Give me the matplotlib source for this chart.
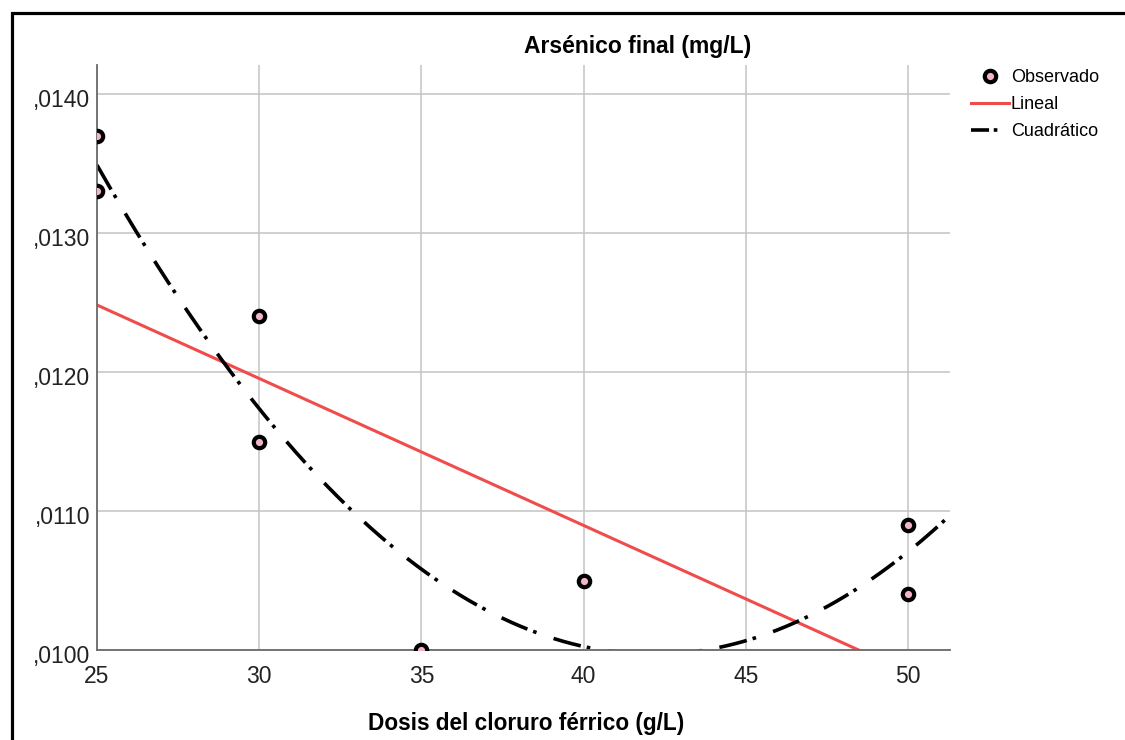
import numpy as np
import matplotlib
matplotlib.use("Agg")
import matplotlib.pyplot as plt
import matplotlib.patches as mpatches
from matplotlib.transforms import ScaledTranslation
from matplotlib.lines import Line2D

# ---- data ----
dosis = [25, 25, 30, 30, 35, 40, 50, 50]
arsenico = [0.0137, 0.0133, 0.0124, 0.0115, 0.0100, 0.0105, 0.0109, 0.0104]
# fitted model coefficients (b0, b1, b2)
lineal_coef = [0.015126, -1.0575e-4]
cuad_coef = [0.031227, -1.00865e-3, 1.1965e-5]
x_ticks = [25, 30, 35, 40, 45, 50]
y_ticks = [0.0100, 0.0110, 0.0120, 0.0130, 0.0140]
x_range = [25, 51.29]
y_range = [0.0100, 0.014209]
legend_labels = ["Observado", "Lineal", "Cuadrático"]
title = "Arsénico final (mg/L)"
xlabel = "Dosis del cloruro férrico (g/L)"

plt.rcParams['font.family'] = ['Liberation Sans', 'DejaVu Sans']

fig = plt.figure(figsize=(11.25, 7.4), dpi=100)
W, H = 1125, 740
ax = fig.add_axes([97 / W, 1 - 650 / H, (950 - 97) / W, (650 - 65) / H])

xs = np.linspace(x_range[0], x_range[1], 400)
y_lin = lineal_coef[0] + lineal_coef[1] * xs
y_quad = cuad_coef[0] + cuad_coef[1] * xs + cuad_coef[2] * xs ** 2

red = '#f04c4c'
ax.plot(xs, y_lin, color=red, lw=2.2, zorder=3, solid_capstyle='butt')
quad_ls = (0, (7.8, 1.7, 1.0, 5.0))
ax.plot(xs, y_quad, color='black', lw=2.6, ls=quad_ls, zorder=3)
ax.plot(dosis, arsenico, ls='none', marker='o', ms=8.2, mew=3.0,
        mec='black', mfc='#f4b4c8', zorder=4)

ax.set_xlim(*x_range)
ax.set_ylim(*y_range)
ax.set_xticks(x_ticks)
ax.set_yticks(y_ticks)
ax.set_xticklabels([str(v) for v in x_ticks])
ax.set_yticklabels([("%.4f" % v).lstrip('0').replace('.', ',') for v in y_ticks])
ax.tick_params(axis='both', length=0, labelsize=16.5, colors='#222222')
ax.tick_params(axis='x', pad=11)
ax.tick_params(axis='y', pad=5)
for lab in ax.get_yticklabels():
    lab.set_verticalalignment('center_baseline')
    lab.set_transform(lab.get_transform() + ScaledTranslation(0, -4 / 100, fig.dpi_scale_trans))

ax.grid(True, color='#c4c4c4', lw=1.1)
ax.set_axisbelow(True)
for s in ['top', 'right']:
    ax.spines[s].set_visible(False)
for s in ['left', 'bottom']:
    ax.spines[s].set_color('#6a6a6a')
    ax.spines[s].set_linewidth(1.3)
    ax.spines[s].set_zorder(3.5)

fig.text(638 / W, 1 - 53 / H, title, ha='center', va='baseline',
         fontsize=16.5, fontweight='bold')
fig.text(526 / W, 1 - 730 / H, xlabel, ha='center', va='baseline',
         fontsize=16.3, fontweight='bold')

handles = [
    Line2D([], [], ls='none', marker='o', ms=8.2, mew=3.0, mec='black', mfc='#f4b4c8'),
    Line2D([], [], color=red, lw=2.2),
    Line2D([], [], color='black', lw=2.6, ls=(0, (5.0, 1.3, 1.0, 5.0))),
]
fig.legend(handles, legend_labels, loc='upper left',
           bbox_to_anchor=(971 / W, 1 - 69 / H), frameon=False,
           fontsize=13, handlelength=2.1, handletextpad=0.1,
           labelspacing=0.55, borderpad=0, borderaxespad=0)

frame = mpatches.Rectangle((11.5 / W, -0.2), 2.0, 1 - 13.5 / H + 0.2,
                           transform=fig.transFigure, fill=False,
                           edgecolor='black', lw=2.3)
fig.add_artist(frame)

fig.savefig('out.png', dpi=100)
